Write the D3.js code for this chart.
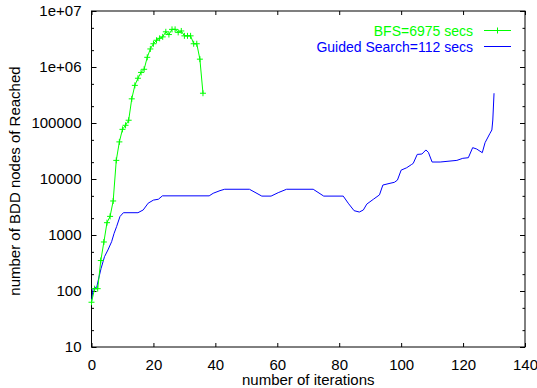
<!DOCTYPE html>
<html>
<head>
<meta charset="utf-8">
<script src="https://cdn.jsdelivr.net/npm/d3@7"></script>
<style>
  body { margin: 0; background: #fff; }
  text { font-family: "Liberation Sans", Arial, Helvetica, sans-serif; }
</style>
</head>
<body>
<div id="chart"></div>
<script>
// BFS series (one point per iteration)
const bfsIter = [0, 1, 2, 3, 4, 5, 6, 7, 8, 9, 10, 11, 12, 13, 14, 15, 16, 17, 18,
  19, 20, 21, 22, 23, 24, 25, 26, 27, 28, 29, 30, 31, 32, 33, 34, 35, 36];
const bfsNodes = [63, 110, 110, 350, 750, 1660, 2150, 4050, 21500, 46000, 77000,
  91000, 112000, 270000, 470000, 630000, 800000, 910000, 1490000, 2100000,
  2600000, 3000000, 3250000, 3450000, 4250000, 3800000, 4700000, 4700000,
  4150000, 4400000, 3600000, 3600000, 3600000, 2600000, 2600000, 1380000, 340000];

// Guided search series
const guidedIter = [0, 0.5, 1.7, 2.2, 3.1, 4.2, 5.3, 6.5, 7.3, 8.1, 9.2, 10.3, 15,
  16.7, 18.3, 20, 21.6, 22.9, 38, 39.3, 41.5, 43, 51, 55, 58, 60.3, 63, 71.6, 75,
  81.3, 82.9, 84.8, 86.5, 87.8, 88.9, 91, 93, 94.1, 96.4, 97.8, 98.8, 100, 101.8,
  103.4, 103.9, 105.2, 106.7, 108, 108.8, 110, 112.6, 118, 119.9, 121.7, 123.1,
  124.4, 126.2, 127.1, 128.7, 129.3, 129.6, 130];
const guidedNodes = [63, 110, 117, 157, 254, 410, 540, 760, 1070, 1410, 2140, 2500,
  2500, 2800, 3700, 4200, 4350, 5000, 5000, 5560, 6200, 6560, 6560, 4950, 4950,
  5700, 6560, 6560, 4950, 4950, 3700, 2720, 2570, 2800, 3560, 4330, 5200, 7800,
  8380, 8720, 9560, 14400, 15900, 18200, 19000, 27500, 27900, 33000, 29900, 20100,
  20100, 21500, 23400, 24000, 36300, 34300, 29500, 44500, 65500, 75000, 113000, 340000];

const iterTicks = [0, 20, 40, 60, 80, 100, 120, 140];
const nodeTicks = [10, 100, 1000, 10000, 100000, 1e6, 1e7];
const nodeTickLabels = ["10", "100", "1000", "10000", "100000", "1e+06", "1e+07"];
const nodeMinorTicks = [20, 50, 200, 500, 2000, 5000, 20000, 50000, 200000, 500000, 2e6, 5e6];

const seriesNames = ["BFS=6975 secs", "Guided Search=112 secs"];

const width = 537, height = 388;
const margin = { top: 11, right: 12, bottom: 41, left: 91.5 };

const svg = d3.select("#chart")
  .append("svg")
  .attr("width", width)
  .attr("height", height);

const x = d3.scaleLinear()
  .domain([0, 140])
  .range([margin.left, width - margin.right]);

const y = d3.scaleLog()
  .domain([10, 1e7])
  .range([height - margin.bottom, margin.top]);

const fontSize = 15;

// Bottom axis, ticks inward
svg.append("g")
  .attr("transform", `translate(0,${height - margin.bottom})`)
  .call(d3.axisBottom(x).tickValues(iterTicks).tickSize(-4).tickPadding(12));

// Top axis (mirror ticks, no labels)
svg.append("g")
  .attr("transform", `translate(0,${margin.top})`)
  .call(d3.axisTop(x).tickValues(iterTicks).tickSize(-4).tickFormat(""));

// Left axis
svg.append("g")
  .attr("transform", `translate(${margin.left},0)`)
  .call(d3.axisLeft(y).tickValues(nodeTicks).tickSize(-5).tickPadding(10)
    .tickFormat((d, i) => nodeTickLabels[i]));

svg.append("g")
  .attr("transform", `translate(${margin.left},0)`)
  .call(d3.axisLeft(y).tickValues(nodeMinorTicks).tickSize(-2.5).tickFormat(""));

// Right axis (mirror)
svg.append("g")
  .attr("transform", `translate(${width - margin.right},0)`)
  .call(d3.axisRight(y).tickValues(nodeTicks).tickSize(-5).tickFormat(""));

svg.append("g")
  .attr("transform", `translate(${width - margin.right},0)`)
  .call(d3.axisRight(y).tickValues(nodeMinorTicks).tickSize(-2.5).tickFormat(""));

svg.selectAll(".domain").remove();
svg.selectAll(".tick line").attr("stroke", "#000");
svg.selectAll(".tick text")
  .attr("fill", "#000")
  .style("font-size", fontSize + "px");

// Border
svg.append("rect")
  .attr("x", margin.left)
  .attr("y", margin.top)
  .attr("width", width - margin.left - margin.right)
  .attr("height", height - margin.top - margin.bottom)
  .attr("fill", "none")
  .attr("stroke", "#000")
  .attr("stroke-width", 1);

// Lines
const bfsData = bfsIter.map((d, i) => ({ x: d, y: bfsNodes[i] }));
const guidedData = guidedIter.map((d, i) => ({ x: d, y: guidedNodes[i] }));

const line = d3.line()
  .x(d => x(d.x))
  .y(d => y(d.y));

svg.append("path")
  .datum(guidedData)
  .attr("d", line)
  .attr("fill", "none")
  .attr("stroke", "#0000ff")
  .attr("stroke-width", 1);

svg.append("path")
  .datum(bfsData)
  .attr("d", line)
  .attr("fill", "none")
  .attr("stroke", "#00ff00")
  .attr("stroke-width", 1);

// "+" markers for BFS
const m = 3;
const plusPath = (cx, cy) => `M${cx - m},${cy}H${cx + m}M${cx},${cy - m}V${cy + m}`;
svg.selectAll("path.bfs-marker")
  .data(bfsData)
  .enter()
  .append("path")
  .attr("class", "bfs-marker")
  .attr("d", d => plusPath(x(d.x), y(d.y)))
  .attr("stroke", "#00ff00")
  .attr("stroke-width", 1);

// Legend
const legendColors = ["#00ff00", "#0000ff"];
const legendY = [30.5, 46.5];
seriesNames.forEach((name, i) => {
  svg.append("text")
    .attr("x", 473)
    .attr("y", legendY[i] + 5)
    .attr("text-anchor", "end")
    .attr("fill", legendColors[i])
    .style("font-size", "14px")
    .text(name);
  svg.append("line")
    .attr("x1", 484).attr("x2", 511)
    .attr("y1", legendY[i]).attr("y2", legendY[i])
    .attr("stroke", legendColors[i])
    .attr("stroke-width", 1);
});
svg.append("path")
  .attr("d", plusPath(497.5, legendY[0]))
  .attr("stroke", "#00ff00");

// Axis titles
svg.append("text")
  .attr("x", (margin.left + width - margin.right) / 2)
  .attr("y", 385)
  .attr("text-anchor", "middle")
  .style("font-size", fontSize + "px")
  .text("number of iterations");

svg.append("text")
  .attr("transform", "translate(19.5,181) rotate(-90)")
  .attr("text-anchor", "middle")
  .style("font-size", fontSize + "px")
  .text("number of BDD nodes of Reached");
</script>
</body>
</html>
